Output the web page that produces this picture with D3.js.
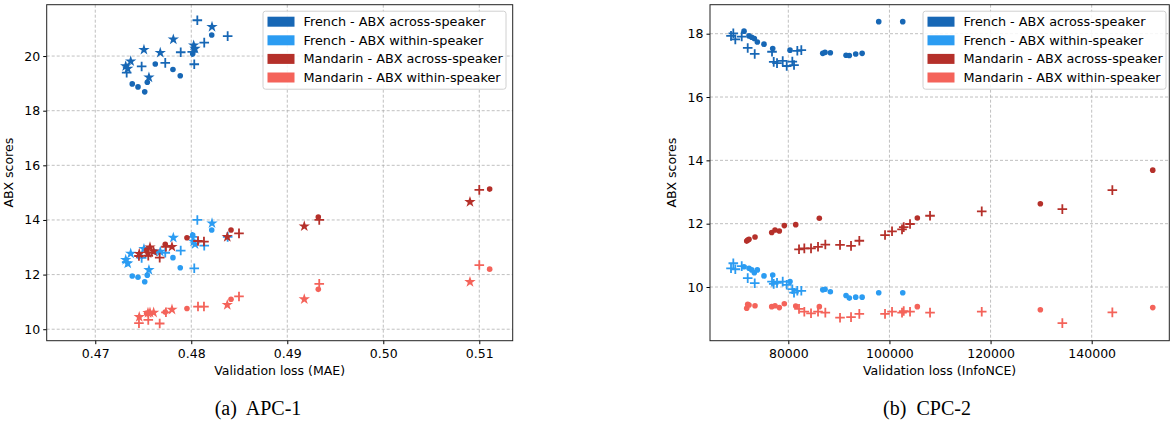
<!DOCTYPE html>
<html>
<head>
<meta charset="utf-8">
<script src="https://cdn.jsdelivr.net/npm/d3@7"></script>
<style>
  body { margin: 0; background: #fff; }
  svg { display: block; font-family: "DejaVu Sans", sans-serif; }
  .grid line { stroke: #b0b0b0; stroke-dasharray: 3,2; stroke-width: 0.8; }
  .caption { font-family: "Liberation Serif", serif; font-size: 20px; white-space: pre; }
</style>
</head>
<body>
<script>
const seriesNames = ['French - ABX across-speaker', 'French - ABX within-speaker',
  'Mandarin - ABX across-speaker', 'Mandarin - ABX within-speaker'];
const seriesColors = ['#1767b5', '#2b9cf2', '#b5302a', '#f4635a'];

// (a) APC-1 : French models
const apcFrDotX = [0.47385, 0.47445, 0.47515, 0.47542, 0.47625, 0.47809, 0.47885, 0.48015, 0.48213];
const apcFrDotAcross = [18.98, 18.87, 18.69, 19.04, 19.71, 19.51, 19.28, 20.08, 20.77];
const apcFrDotWithin = [11.95, 11.90, 11.74, 11.98, 12.83, 12.62, 12.25, 13.45, 13.63];
const apcFrPlusX = [0.47327, 0.47483, 0.47729, 0.47890, 0.48010, 0.48031, 0.48063, 0.48135, 0.48379];
const apcFrPlusAcross = [19.39, 19.62, 19.75, 20.14, 20.15, 19.70, 21.31, 20.49, 20.73];
const apcFrPlusWithin = [12.46, 12.61, 12.80, 12.88, 13.38, 12.23, 14.00, 13.06, 13.38];
const apcFrStarX = [0.47317, 0.47338, 0.47369, 0.47507, 0.47559, 0.47677, 0.47813, 0.48025, 0.48039, 0.48216];
const apcFrStarAcross = [19.63, 19.54, 19.81, 20.23, 19.22, 20.12, 20.61, 20.39, 20.27, 21.07];
const apcFrStarWithin = [12.54, 12.41, 12.77, 12.94, 12.17, 12.84, 13.35, 13.21, 13.11, 13.88];
// (a) APC-1 : Mandarin models
const apcMaDotX = [0.47535, 0.47729, 0.47955, 0.48414, 0.49323, 0.51108];
const apcMaDotAcross = [12.90, 13.11, 13.35, 13.63, 14.11, 15.13];
const apcMaDotWithin = [10.58, 10.63, 10.76, 11.10, 11.46, 12.20];
const apcMaPlusX = [0.47455, 0.47552, 0.47671, 0.47736, 0.48070, 0.48132, 0.48497, 0.49333, 0.51000];
const apcMaPlusAcross = [12.68, 12.69, 12.62, 13.02, 13.23, 13.21, 13.51, 14.00, 15.10];
const apcMaPlusWithin = [10.22, 10.34, 10.21, 10.62, 10.83, 10.83, 11.20, 11.66, 12.35];
const apcMaStarX = [0.47458, 0.47549, 0.47570, 0.47608, 0.47799, 0.48375, 0.49177, 0.50903];
const apcMaStarAcross = [12.76, 12.78, 13.00, 12.85, 13.02, 13.38, 13.77, 14.66];
const apcMaStarWithin = [10.45, 10.60, 10.61, 10.61, 10.72, 10.89, 11.10, 11.73];

// (b) CPC-2 : French models
const cpcFrDotX = [71240, 72230, 72760, 73275, 73870, 75190, 76915, 80335, 86805, 87260, 88310, 91415, 92065, 93330, 94600, 97880, 102630];
const cpcFrDotAcross = [18.08, 17.93, 17.89, 17.85, 17.74, 17.67, 17.53, 17.48, 17.38, 17.41, 17.40, 17.32, 17.31, 17.36, 17.38, 18.38, 18.38];
const cpcFrDotWithin = [10.64, 10.59, 10.54, 10.45, 10.54, 10.35, 10.38, 10.17, 9.91, 9.93, 9.85, 9.73, 9.65, 9.68, 9.68, 9.82, 9.82];
const cpcFrPlusX = [68667, 69121, 69517, 70783, 71969, 73354, 76776, 77112, 77765, 78892, 79684, 80791, 81127, 81780, 82571];
const cpcFrPlusAcross = [17.93, 18.01, 17.82, 17.91, 17.55, 17.36, 17.43, 17.11, 17.07, 17.14, 16.98, 17.12, 17.01, 17.46, 17.48];
const cpcFrPlusWithin = [10.59, 10.75, 10.56, 10.66, 10.28, 10.12, 10.17, 10.10, 10.13, 10.17, 10.07, 9.93, 9.82, 9.88, 9.88];
// (b) CPC-2 : Mandarin models
const cpcMaDotX = [71771, 71970, 72226, 73413, 76716, 77369, 78220, 79209, 81464, 86132, 105516, 129846, 152077];
const cpcMaDotAcross = [11.45, 11.48, 11.51, 11.58, 11.72, 11.80, 11.77, 11.94, 11.97, 12.17, 12.18, 12.63, 13.69];
const cpcMaDotWithin = [9.33, 9.45, 9.43, 9.41, 9.38, 9.41, 9.35, 9.47, 9.40, 9.38, 9.38, 9.28, 9.35];
const cpcMaPlusX = [82116, 83165, 84490, 85875, 87319, 90226, 92402, 94044, 99127, 100512, 102490, 102826, 104073, 108029, 118254, 134197, 144087];
const cpcMaPlusAcross = [11.19, 11.22, 11.22, 11.27, 11.34, 11.33, 11.30, 11.46, 11.64, 11.76, 11.82, 11.89, 11.99, 12.25, 12.39, 12.46, 13.06];
const cpcMaPlusWithin = [9.31, 9.22, 9.17, 9.22, 9.19, 9.03, 9.05, 9.15, 9.15, 9.22, 9.19, 9.24, 9.22, 9.19, 9.22, 8.86, 9.20];

const apcXTicks = [0.47, 0.48, 0.49, 0.50, 0.51];
const apcYTicks = [10, 12, 14, 16, 18, 20];
const cpcXTicks = [80000, 100000, 120000, 140000];
const cpcYTicks = [10, 12, 14, 16, 18];

// turn the arrays into point lists: {x, y, series, marker}
function pts(xs, ys, s, marker) {
  return xs.map((x, i) => ({ x, y: ys[i], s, marker }));
}

const apcPoints = [].concat(
  pts(apcFrDotX, apcFrDotAcross, 0, 'dot'), pts(apcFrPlusX, apcFrPlusAcross, 0, 'plus'), pts(apcFrStarX, apcFrStarAcross, 0, 'star'),
  pts(apcFrDotX, apcFrDotWithin, 1, 'dot'), pts(apcFrPlusX, apcFrPlusWithin, 1, 'plus'), pts(apcFrStarX, apcFrStarWithin, 1, 'star'),
  pts(apcMaDotX, apcMaDotAcross, 2, 'dot'), pts(apcMaPlusX, apcMaPlusAcross, 2, 'plus'), pts(apcMaStarX, apcMaStarAcross, 2, 'star'),
  pts(apcMaDotX, apcMaDotWithin, 3, 'dot'), pts(apcMaPlusX, apcMaPlusWithin, 3, 'plus'), pts(apcMaStarX, apcMaStarWithin, 3, 'star')
);

const cpcPoints = [].concat(
  pts(cpcFrDotX, cpcFrDotAcross, 0, 'dot'), pts(cpcFrPlusX, cpcFrPlusAcross, 0, 'plus'),
  pts(cpcFrDotX, cpcFrDotWithin, 1, 'dot'), pts(cpcFrPlusX, cpcFrPlusWithin, 1, 'plus'),
  pts(cpcMaDotX, cpcMaDotAcross, 2, 'dot'), pts(cpcMaPlusX, cpcMaPlusAcross, 2, 'plus'),
  pts(cpcMaDotX, cpcMaDotWithin, 3, 'dot'), pts(cpcMaPlusX, cpcMaPlusWithin, 3, 'plus')
);

const width = 1173, height = 428;

const svg = d3.select('body').append('svg')
  .attr('width', width)
  .attr('height', height);

const star = d3.symbol().type(d3.symbolStar).size(40);

function drawPanel(cfg) {
  const x = d3.scaleLinear().domain(cfg.xDomain).range([cfg.left, cfg.right]);
  const y = d3.scaleLinear().domain(cfg.yDomain).range([cfg.bottom, cfg.top]);
  const g = svg.append('g');

  // grid
  const grid = g.append('g').attr('class', 'grid');
  grid.selectAll('line.gx').data(cfg.xTicks).enter().append('line')
    .attr('x1', d => x(d)).attr('x2', d => x(d))
    .attr('y1', cfg.top).attr('y2', cfg.bottom);
  grid.selectAll('line.gy').data(cfg.yTicks).enter().append('line')
    .attr('y1', d => y(d)).attr('y2', d => y(d))
    .attr('x1', cfg.left).attr('x2', cfg.right);

  // points
  const marks = g.append('g');
  cfg.points.forEach(p => {
    const cx = x(p.x), cy = y(p.y), col = seriesColors[p.s];
    if (p.marker === 'dot') {
      marks.append('circle').attr('cx', cx).attr('cy', cy).attr('r', 2.8).attr('fill', col);
    } else if (p.marker === 'plus') {
      marks.append('path')
        .attr('d', `M${cx - 4.8},${cy}H${cx + 4.8}M${cx},${cy - 4.8}V${cy + 4.8}`)
        .attr('stroke', col).attr('stroke-width', 1.8).attr('fill', 'none');
    } else {
      marks.append('path').attr('d', star)
        .attr('transform', `translate(${cx},${cy})`)
        .attr('fill', col);
    }
  });

  // axes
  g.append('g')
    .attr('transform', `translate(0,${cfg.bottom})`)
    .call(d3.axisBottom(x).tickValues(cfg.xTicks).tickFormat(cfg.xFormat).tickSize(3.5).tickSizeOuter(0))
    .call(a => a.select('.domain').remove())
    .call(a => a.selectAll('text').attr('font-size', 12.5).attr('font-family', 'DejaVu Sans').attr('fill', '#000').attr('dy', '0.85em'));
  g.append('g')
    .attr('transform', `translate(${cfg.left},0)`)
    .call(d3.axisLeft(y).tickValues(cfg.yTicks).tickFormat(d3.format('d')).tickSize(3.5).tickSizeOuter(0))
    .call(a => a.select('.domain').remove())
    .call(a => a.selectAll('text').attr('font-size', 12.5).attr('font-family', 'DejaVu Sans').attr('fill', '#000'));

  g.append('rect')
    .attr('x', cfg.left).attr('y', cfg.top)
    .attr('width', cfg.right - cfg.left).attr('height', cfg.bottom - cfg.top)
    .attr('fill', 'none').attr('stroke', '#222').attr('stroke-width', 1);

  g.append('text')
    .attr('x', (cfg.left + cfg.right) / 2).attr('y', cfg.bottom + 34)
    .attr('text-anchor', 'middle').attr('font-size', 12.5)
    .text(cfg.xLabel);
  g.append('text')
    .attr('transform', `translate(${cfg.left - 34},${(cfg.top + cfg.bottom) / 2}) rotate(-90)`)
    .attr('text-anchor', 'middle').attr('font-size', 12.5)
    .text('ABX scores');

  // legend
  const lg = g.append('g').attr('transform', `translate(${cfg.legendX},${cfg.top + 6.5})`);
  lg.append('rect')
    .attr('width', 243).attr('height', 78).attr('rx', 2.5)
    .attr('fill', '#fff').attr('fill-opacity', 0.85)
    .attr('stroke', '#d0d0d0');
  const row = lg.selectAll('g.row').data(seriesNames).enter().append('g')
    .attr('transform', (d, i) => `translate(0,${10.5 + i * 18.6})`);
  row.append('rect')
    .attr('x', 4.5).attr('y', -5).attr('width', 27).attr('height', 10)
    .attr('fill', (d, i) => seriesColors[i]);
  row.append('text')
    .attr('x', 40.5).attr('dy', '0.35em').attr('font-size', 12.8)
    .text(d => d);

  svg.append('text').attr('class', 'caption')
    .attr('x', cfg.captionX).attr('y', 415)
    .attr('text-anchor', 'middle')
    .text(cfg.caption);
}

drawPanel({
  points: apcPoints,
  xDomain: [0.46494, 0.51348], yDomain: [9.58, 21.88],
  left: 46.7, right: 512.7, top: 4.7, bottom: 340.7,
  xTicks: apcXTicks, yTicks: apcYTicks, xFormat: d3.format('.2f'),
  xLabel: 'Validation loss (MAE)',
  legendX: 263, caption: '(a)  APC-1', captionX: 258
});

drawPanel({
  points: cpcPoints,
  xDomain: [64510, 155350], yDomain: [8.304, 18.916],
  left: 710, right: 1169.3, top: 4.7, bottom: 340.7,
  xTicks: cpcXTicks, yTicks: cpcYTicks, xFormat: d3.format('d'),
  xLabel: 'Validation loss (InfoNCE)',
  legendX: 923, caption: '(b)  CPC-2', captionX: 927
});
</script>
</body>
</html>
